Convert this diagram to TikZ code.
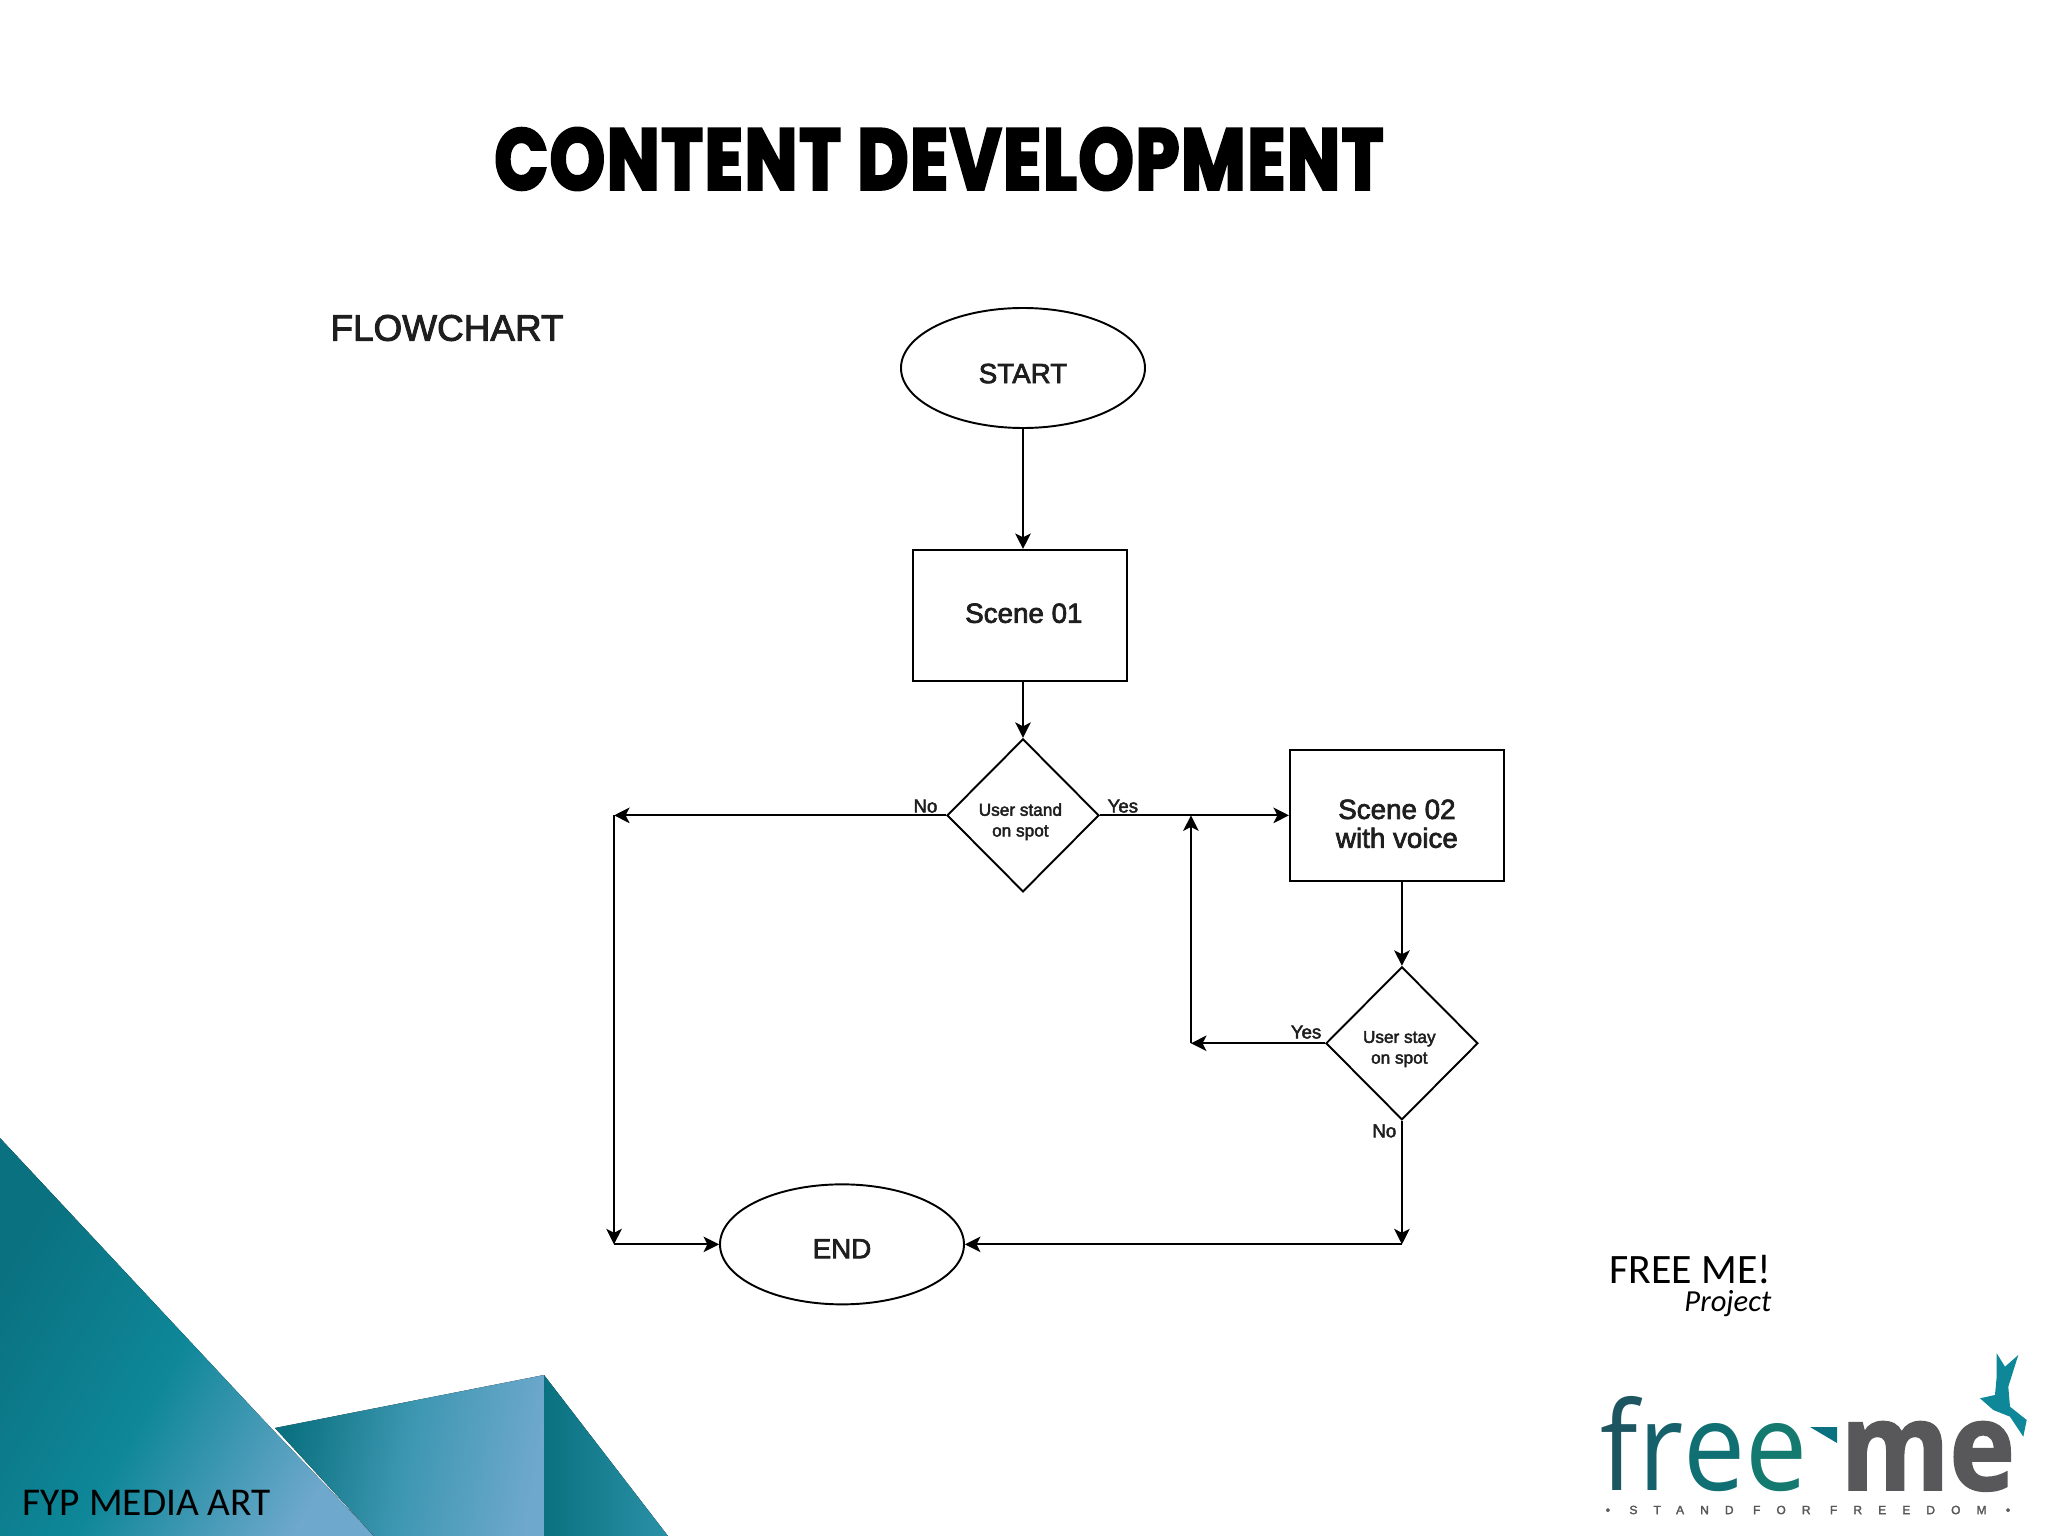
\documentclass[tikz,border=0pt]{standalone}
\usepackage{fontspec}
\usetikzlibrary{positioning, shapes.geometric, arrows.meta}
\setmainfont[FakeBold=2.5]{Liberation Sans}
\newfontfamily\titlefont[FakeStretch=0.81,LetterSpace=2.5,BoldFeatures={FakeBold=3.5}]{Poppins}
\newfontfamily\slidefont{Carlito}
\newfontfamily\logofont[FakeStretch=0.9,BoldFeatures={FakeBold=1.5}]{Open Sans}
\definecolor{tealdark}{HTML}{0A7180}
\definecolor{tealmid}{HTML}{0E8798}
\definecolor{teallight}{HTML}{6EA8CC}
\definecolor{logogray}{HTML}{58585A}
\definecolor{inktext}{HTML}{1E1E1E}
\newcommand{\nudged}[2]{\raisebox{#1}[0pt][0pt]{#2}}
\newcommand{\stacked}[3]{\raisebox{#2}[0pt][0pt]{\parbox{#1}{\centering #3}}}
\tikzset{
	terminal/.style={draw, ellipse, line width=0.55pt, minimum width=2.44cm, minimum height=1.2cm, inner sep=0pt, text=inktext, font=\fontsize{7.9}{9}\selectfont},
	scene/.style={draw, rectangle, line width=0.55pt, minimum width=2.14cm, minimum height=1.31cm, inner sep=0pt, text=inktext, font=\fontsize{7.9}{8.2}\selectfont},
	decision/.style={draw, diamond, aspect=1, line width=0.55pt, minimum width=1.52cm, minimum height=1.53cm, inner sep=0pt, text=inktext, font=\fontsize{4.9}{5.9}\selectfont},
	answer/.style={inner sep=0pt, text=inktext, font=\fontsize{5.3}{6}\selectfont},
	flow/.style={line width=0.55pt, -{Stealth[length=4.4pt,width=4.4pt,inset=1.1pt]}},
	slidetext/.style={inner sep=0pt, text=black, font=\slidefont\fontsize{11.2}{13}\selectfont},
}
\begin{document}
\begin{tikzpicture}
	\useasboundingbox (0,0) rectangle (20.48,-15.36);

	\fill[left color=tealdark, right color=teallight, middle color=tealmid, shading angle=60] (0,-11.38) -- (2.71,-14.28) -- (3.74,-15.36) -- (0,-15.36) -- cycle;
	\fill[left color=tealdark, right color=teallight, middle color=tealmid!50!teallight, shading angle=80] (2.75,-14.28) -- (5.44,-13.75) -- (5.44,-15.36) -- (3.74,-15.36) -- cycle;
	\fill[left color=tealdark, right color=tealmid!70!teallight] (5.44,-13.75) -- (6.68,-15.36) -- (5.44,-15.36) -- cycle;

	\node[inner sep=0pt] (title) at (9.39,-1.59) {\titlefont\bfseries\fontsize{24.5}{28}\selectfont CONTENT DEVELOPMENT};
	\node[inner sep=0pt, text=inktext, font=\fontsize{10.5}{12}\selectfont] (flowchart) at (4.47,-3.28) {FLOWCHART};
	\node[slidetext, anchor=base west] (fyp) at (0.22,-15.15) {FYP MEDIA ART};

	\node[terminal] (start) at (10.23,-3.68) {\nudged{-4.3pt}{START}};
	\node[scene, below=1.20cm of start, xshift=-0.03cm] (scene1) {\kern2.2pt\nudged{-2.1pt}{Scene 01}};
	\node[decision, below=0.56cm of scene1, xshift=0.03cm] (d1) {\kern-1.5pt\stacked{1cm}{-3.05pt}{User stand\\on spot}};
	\node[scene, right=1.89cm of d1] (scene2) {\stacked{1.9cm}{-4.4pt}{Scene 02\\with voice}};
	\node[decision, below=0.84cm of scene2, xshift=0.05cm] (d2) {\kern-1.5pt\stacked{1cm}{-2.9pt}{User stay\\on spot}};

	\coordinate[left=3.32cm of d1] (c1);
	\coordinate[below=4.29cm of c1] (c2);
	\node[terminal, right=1.05cm of c2] (end) {\nudged{-3.95pt}{END}};
	\coordinate (c3) at (d2 |- end);
	\coordinate[left=1.34cm of d2] (c4);
	\coordinate (c5) at (c4 |- d1);

	\node[answer, above left=0.02cm and 0.08cm of d1.west] (no1) {No};
	\node[answer, above right=0.02cm and 0.07cm of d1.east] (yes1) {Yes};
	\node[answer, above left=0.04cm and 0.03cm of d2.west] (yes2) {Yes};
	\node[answer, below left=0.03cm and 0.05cm of d2.south] (no2) {No};

	\draw[flow] (start) -- (start |- scene1.north);
	\draw[flow] (scene1.south -| d1) -- (d1);
	\draw[flow] (d1) -- (c1);
	\draw[flow] (c1) -- (c2);
	\draw[flow] (c2) -- (end);
	\draw[flow] (d1) -- (scene2);
	\draw[flow] (scene2.south -| d2) -- (d2);
	\draw[flow] (d2) -- (c3);
	\draw[flow] (c3) -- (end);
	\draw[flow] (d2) -- (c4);
	\draw[flow] (c4) -- (c5);

	\node[slidetext, anchor=base east, font=\slidefont\fontsize{11.9}{14}\selectfont] (project1) at (17.72,-12.83) {FREE ME!};
	\node[slidetext, anchor=base east, font=\slidefont\itshape\fontsize{8.7}{11}\selectfont] (project2) at (17.72,-13.11) {Project};

	\node[inner sep=0pt, anchor=base west, font=\logofont\fontsize{35}{40}\selectfont] (logofree) at (16.0,-14.9) {\textcolor[HTML]{1D5560}{f}\textcolor[HTML]{15606A}{r}\textcolor[HTML]{0F6F72}{e}\textcolor[HTML]{14796F}{e}};
	\node[inner sep=0pt, anchor=base west, text=logogray, font=\logofont\bfseries\fontsize{35}{40}\selectfont] (logome) at (18.4,-14.9) {me};
	\fill[tealdark] (18.10,-14.27) -- (18.37,-14.27) -- (18.37,-14.43) -- cycle;
	\fill[tealmid] (19.967,-13.533) -- (20.05,-13.667) -- (20.183,-13.55) -- (20.083,-13.867) -- (20.10,-14.067) -- (20.267,-14.20) -- (20.233,-14.367) -- (20.10,-14.167) -- (19.933,-14.10) -- (19.80,-13.983) -- (19.95,-13.95) -- (19.967,-13.767) -- cycle;
	\node[inner sep=0pt, text=logogray, font=\addfontfeature{LetterSpace=135}\fontsize{3.4}{4}\selectfont] (tagline) at (18.08,-15.10) {• STAND FOR FREEDOM •};
\end{tikzpicture}
\end{document}
